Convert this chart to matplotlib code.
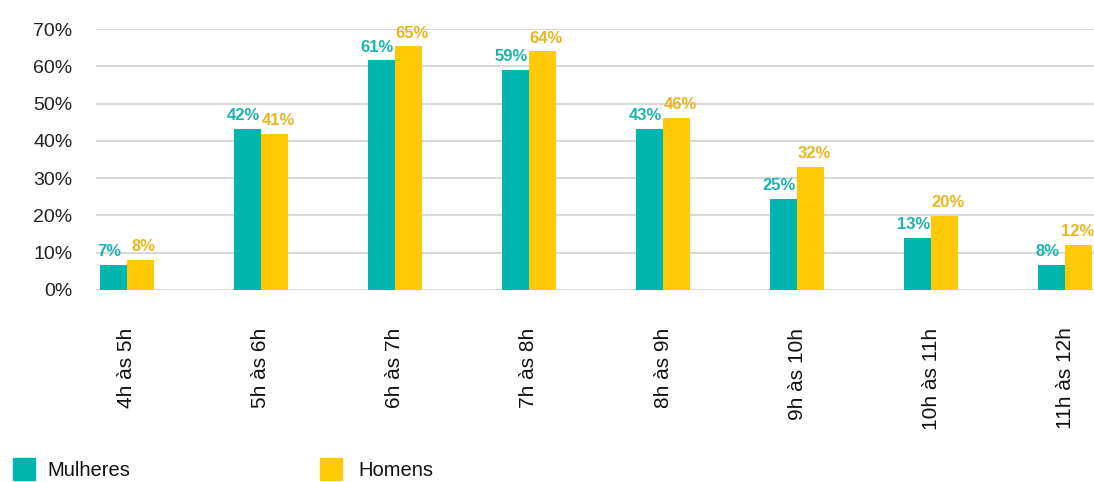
import matplotlib
matplotlib.use("Agg")
import matplotlib.pyplot as plt
import numpy as np
from matplotlib.patches import Rectangle

categories = ["4h às 5h", "5h às 6h", "6h às 7h", "7h às 8h", "8h às 9h",
              "9h às 10h", "10h às 11h", "11h às 12h"]
mulheres = [6.7, 43.3, 61.6, 59.1, 43.3, 24.5, 14.0, 6.7]
homens = [8.1, 41.9, 65.4, 64.0, 46.2, 33.1, 19.9, 12.1]
mulheres_labels = ["7%", "42%", "61%", "59%", "43%", "25%", "13%", "8%"]
homens_labels = ["8%", "41%", "65%", "64%", "46%", "32%", "20%", "12%"]
yticks = [0, 10, 20, 30, 40, 50, 60, 70]

teal = "#00B5AD"
yellow = "#FFCA05"
teal_txt = "#1BB3AC"
yellow_txt = "#E9B520"

plt.rcParams['font.family'] = ['Liberation Sans', 'DejaVu Sans']

fig = plt.figure(figsize=(10.94, 4.82), dpi=100)
W, H = 1094, 482
left, right = 96 / W, 1094 / W
bottom, top = 1 - 290 / H, 1 - 29 / H
ax = fig.add_axes([left, bottom, right - left, top - bottom])

x = np.arange(len(categories))
w = 0.2015
b1 = ax.bar(x - w / 2, mulheres, w, color=teal, zorder=3)
b2 = ax.bar(x + w / 2, homens, w, color=yellow, zorder=3)

for rect, lab in zip(b1, mulheres_labels):
    ax.annotate(lab, (rect.get_x() + rect.get_width() / 2, rect.get_height()),
                xytext=(-3, 4), textcoords="offset points", ha="center", va="bottom",
                fontsize=12, fontweight="bold", color=teal_txt, zorder=4)
n = len(homens_labels)
for i, (rect, lab) in enumerate(zip(b2, homens_labels)):
    dx = 2.5 if i < n - 1 else -0.5
    ax.annotate(lab, (rect.get_x() + rect.get_width() / 2, rect.get_height()),
                xytext=(dx, 4), textcoords="offset points", ha="center", va="bottom",
                fontsize=12, fontweight="bold", color=yellow_txt, zorder=4)

ax.set_xlim(-0.231, 7.216)
ax.set_ylim(0, 70)
ax.set_yticks(yticks)
ax.set_yticklabels([f"{t}%" for t in yticks], fontsize=14, color="#222222")
ax.set_xticks(x)
ax.set_xticklabels(categories, rotation=90, fontsize=15, color="#111111")
ax.tick_params(axis="y", length=0, pad=17)
ax.tick_params(axis="x", length=0, pad=27)
ax.grid(axis="y", color="#d9d9d9", linewidth=1.5, zorder=0)
ax.set_axisbelow(True)
for s in ax.spines.values():
    s.set_visible(False)

# legend
for (px, color, label, tx) in [(13, teal, "Mulheres", 47), (320, yellow, "Homens", 358)]:
    fig.add_artist(Rectangle((px / W, 1 - 480 / H), 22 / W, 22 / H,
                             transform=fig.transFigure, color=color))
    fig.text(tx / W, 1 - 470 / H, label, fontsize=14.5, va="center", ha="left",
             color="#111111")

fig.savefig("out.png", dpi=100)
